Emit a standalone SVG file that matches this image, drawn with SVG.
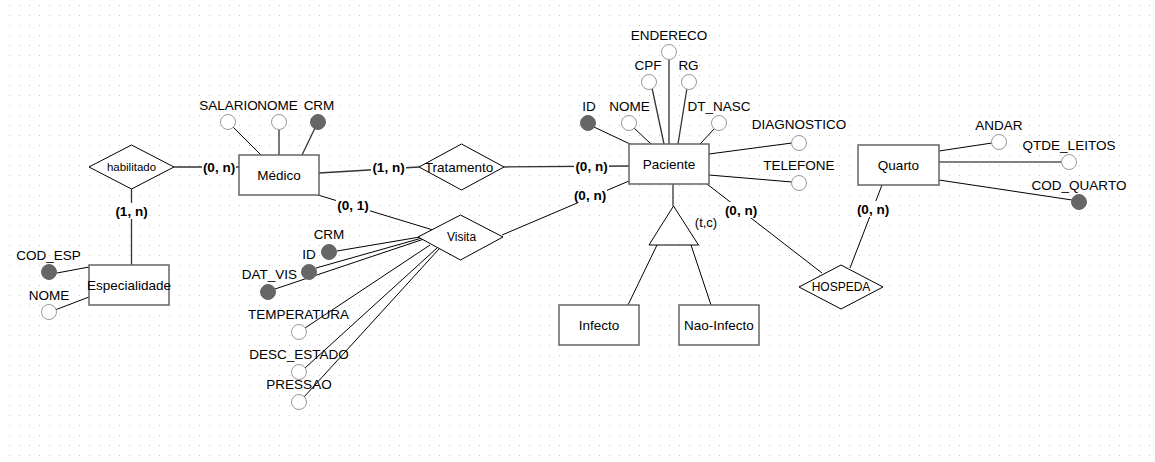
<svg xmlns="http://www.w3.org/2000/svg" width="1155" height="462" viewBox="0 0 1155 462">
<defs>
<pattern id="grid" x="0" y="0" width="10" height="10" patternUnits="userSpaceOnUse">
<rect x="9" y="5" width="1" height="1" fill="#c4c4c4"/>
</pattern>
<style>
.ent{fill:#fff;stroke:#666;stroke-width:1.5}
.rel{fill:#fff;stroke:#000;stroke-width:1}
.att{fill:#fff;stroke:#999;stroke-width:1}
.key{fill:#666;stroke:#666;stroke-width:1}
.ln{stroke:#000;stroke-width:1;fill:none}
.ln2{stroke:#333;stroke-width:1.3;fill:none}
text{font-family:"Liberation Sans",Arial,Helvetica,sans-serif;fill:#000;text-anchor:middle}
.t{font-size:13.5px}
.d{font-size:12px}
.c{font-size:13.5px;font-weight:bold}
.bg{fill:#fff}
</style>
</defs>
<rect width="1155" height="462" fill="#fff"/>
<rect width="1155" height="462" fill="url(#grid)"/>

<g id="connectors">
<line class="ln2" x1="174" y1="167" x2="239" y2="167"/>
<line class="ln2" x1="131.5" y1="189" x2="131.5" y2="265"/>
<line class="ln2" x1="319" y1="173" x2="419" y2="167"/>
<line class="ln2" x1="504" y1="167" x2="629" y2="166"/>
<line class="ln" x1="318" y1="195" x2="433" y2="230"/>
<line class="ln" x1="502" y1="235" x2="629" y2="181"/>
<line class="ln" x1="707" y1="184" x2="822" y2="273"/>
<line class="ln" x1="882" y1="185" x2="850" y2="268"/>
<line class="ln2" x1="673" y1="184" x2="673" y2="206"/>
<line class="ln" x1="657" y1="245" x2="628" y2="305"/>
<line class="ln" x1="691" y1="245" x2="711" y2="305"/>
<!-- attribute links -->
<line class="ln" x1="57" y1="273" x2="89" y2="267"/>
<line class="ln" x1="55" y1="310" x2="89" y2="297"/>
<line class="ln" x1="233" y1="127" x2="261" y2="155"/>
<line class="ln2" x1="279" y1="129.5" x2="279" y2="155"/>
<line class="ln2" x1="315" y1="128" x2="302" y2="155"/>
<line class="ln" x1="594" y1="127" x2="630" y2="144"/>
<line class="ln" x1="634" y1="128" x2="651" y2="144"/>
<line class="ln2" x1="652" y1="88" x2="664" y2="144"/>
<line class="ln2" x1="669" y1="59.5" x2="669" y2="144"/>
<line class="ln2" x1="687" y1="88" x2="678" y2="144"/>
<line class="ln" x1="715" y1="128" x2="700" y2="144"/>
<line class="ln" x1="709" y1="154" x2="792" y2="143"/>
<line class="ln" x1="709" y1="175" x2="792" y2="182"/>
<line class="ln" x1="939" y1="151" x2="992" y2="143"/>
<line class="ln" x1="939" y1="162" x2="1061.5" y2="162"/>
<line class="ln" x1="939" y1="180" x2="1072" y2="200"/>
<line class="ln" x1="337" y1="251" x2="420" y2="237"/>
<line class="ln" x1="316" y1="268" x2="422" y2="238"/>
<line class="ln" x1="275" y1="289" x2="424" y2="239"/>
<line class="ln" x1="305" y1="328" x2="430" y2="245"/>
<line class="ln" x1="305" y1="368" x2="437" y2="248"/>
<line class="ln" x1="304" y1="397" x2="439" y2="249"/>
<!-- cardinality labels -->
<rect class="bg" x="202" y="159" width="34" height="16"/>
<text class="c" x="219" y="172">(0, n)</text>
<rect class="bg" x="115" y="203" width="34" height="16"/>
<text class="c" x="131.5" y="216">(1, n)</text>
<rect class="bg" x="371" y="160" width="35" height="16"/>
<text class="c" x="388.5" y="172">(1, n)</text>
<rect class="bg" x="574" y="158" width="35" height="16"/>
<text class="c" x="591.5" y="171">(0, n)</text>
<rect class="bg" x="336" y="197" width="34" height="16"/>
<text class="c" x="353" y="210">(0, 1)</text>
<rect class="bg" x="573" y="187" width="34" height="16"/>
<text class="c" x="590" y="200">(0, n)</text>
<rect class="bg" x="724" y="202" width="34" height="16"/>
<text class="c" x="741" y="215">(0, n)</text>
<rect class="bg" x="856" y="201" width="34" height="16"/>
<text class="c" x="873" y="214">(0, n)</text>
</g>

<g id="medico">
<rect class="ent" x="239" y="155" width="80" height="40"/>
<text class="t" x="279" y="180">Médico</text>
</g>
<g id="medico-attrs">
<circle class="att" cx="228" cy="122" r="7.5"/>
<text class="t" x="228.5" y="110">SALARIO</text>
<circle class="att" cx="279" cy="122" r="7.5"/>
<text class="t" x="277.5" y="110">NOME</text>
<circle class="key" cx="318" cy="122" r="7.5"/>
<text class="t" x="319" y="110">CRM</text>
</g>

<g id="habilitado">
<polygon class="rel" points="89,167 131.5,145 174,167 131.5,189"/>
<text class="d" x="131.5" y="171" style="font-size:11.5px">habilitado</text>
</g>

<g id="especialidade">
<rect class="ent" x="89" y="265" width="80" height="40"/>
<text class="t" x="129" y="290">Especialidade</text>
<circle class="key" cx="49" cy="272" r="7.5"/>
<text class="t" x="48.5" y="260">COD_ESP</text>
<circle class="att" cx="49" cy="312" r="7.5"/>
<text class="t" x="49" y="300">NOME</text>
</g>

<g id="tratamento">
<polygon class="rel" points="419,167 461.5,144 504,167 461.5,190"/>
<text class="t" x="459" y="172">Tratamento</text>
</g>

<g id="visita">
<polygon class="rel" points="418,237 460.5,215 503,237 460.5,260"/>
<text class="d" x="461.5" y="241">Visita</text>
<circle class="key" cx="329" cy="252" r="7.5"/>
<text class="t" x="329" y="239">CRM</text>
<circle class="key" cx="309" cy="272" r="7.5"/>
<text class="t" x="309" y="259">ID</text>
<circle class="key" cx="268" cy="292" r="7.5"/>
<text class="t" x="269.5" y="279">DAT_VIS</text>
<circle class="att" cx="299" cy="332" r="7.5"/>
<text class="t" x="298.5" y="319">TEMPERATURA</text>
<circle class="att" cx="299" cy="372" r="7.5"/>
<text class="t" x="299" y="359">DESC_ESTADO</text>
<circle class="att" cx="299" cy="402" r="7.5"/>
<text class="t" x="299" y="389">PRESSAO</text>
</g>

<g id="paciente">
<rect class="ent" x="629" y="144" width="80" height="40"/>
<text class="t" x="669" y="169">Paciente</text>
</g>
<g id="paciente-attrs">
<circle class="key" cx="588" cy="123" r="7.5"/>
<text class="t" x="589" y="111">ID</text>
<circle class="att" cx="629" cy="123" r="7.5"/>
<text class="t" x="629.5" y="111">NOME</text>
<circle class="att" cx="649" cy="82" r="7.5"/>
<text class="t" x="648" y="70">CPF</text>
<circle class="att" cx="669" cy="52" r="7.5"/>
<text class="t" x="669" y="40">ENDERECO</text>
<circle class="att" cx="689" cy="82" r="7.5"/>
<text class="t" x="688.5" y="70">RG</text>
<circle class="att" cx="719" cy="123" r="7.5"/>
<text class="t" x="719" y="111">DT_NASC</text>
<circle class="att" cx="799" cy="143" r="7.5"/>
<text class="t" x="799" y="129">DIAGNOSTICO</text>
<circle class="att" cx="799" cy="183" r="7.5"/>
<text class="t" x="799" y="170">TELEFONE</text>
</g>

<g id="especializacao">
<polygon class="rel" points="673.5,206 649,245 698.5,245" style="stroke:#000"/>
<text class="d" x="706" y="227" style="font-size:13px">(t,c)</text>
</g>

<g id="infecto">
<rect class="ent" x="559" y="305" width="80" height="40"/>
<text class="t" x="599" y="330">Infecto</text>
</g>
<g id="nao-infecto">
<rect class="ent" x="679" y="305" width="80" height="40"/>
<text class="t" x="719" y="330">Nao-Infecto</text>
</g>

<g id="hospeda">
<polygon class="rel" points="799,287 841,265 883,287 841,309"/>
<text class="d" x="841" y="291">HOSPEDA</text>
</g>

<g id="quarto">
<rect class="ent" x="858" y="145" width="81" height="40"/>
<text class="t" x="898.5" y="170">Quarto</text>
<circle class="att" cx="999" cy="142" r="7.5"/>
<text class="t" x="999" y="130">ANDAR</text>
<circle class="att" cx="1069" cy="162" r="7.5"/>
<text class="t" x="1069" y="150">QTDE_LEITOS</text>
<circle class="key" cx="1079" cy="202" r="7.5"/>
<text class="t" x="1079" y="190">COD_QUARTO</text>
</g>
</svg>
